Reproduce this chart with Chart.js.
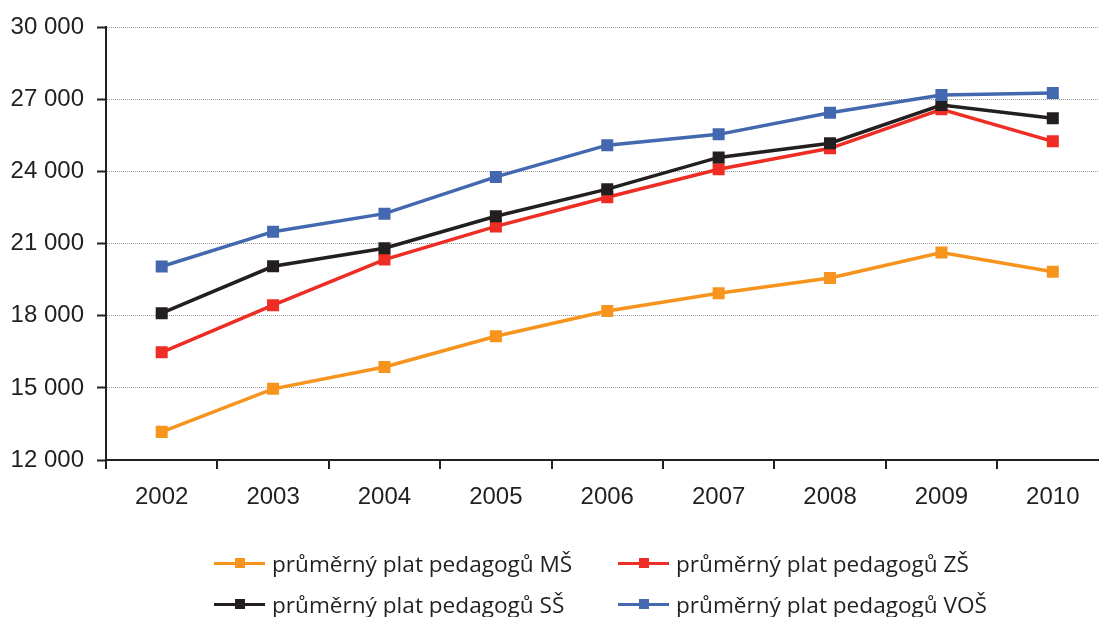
<!DOCTYPE html>
<html>
<head>
<meta charset="utf-8">
<script src="https://cdn.jsdelivr.net/npm/chart.js@4.4.0/dist/chart.umd.min.js"></script>
<style>
  html, body { margin: 0; padding: 0; background: #fff; overflow: hidden; }
  #wrap { position: relative; width: 1099px; height: 617px; overflow: hidden; }
  #mycanvas { position: absolute; left: 0; top: 0; }
  .leg { position: absolute; font-family: "Open Sans", "Noto Sans", sans-serif; font-size: 22.6px; color: #231F20; line-height: 24px; white-space: nowrap; }
  .leg i { position: absolute; left: -58px; top: 10px; width: 51px; height: 3px; }
  .leg b { position: absolute; left: -37px; top: 6px; width: 10px; height: 10px; }
</style>
</head>
<body>
<div id="wrap">
  <canvas id="mycanvas" width="1117" height="617"></canvas>
  <div id="legend"></div>
</div>
<script>
var years = ['2002', '2003', '2004', '2005', '2006', '2007', '2008', '2009', '2010'];

var platMS  = [13170, 14960, 15870, 17150, 18200, 18940, 19570, 20630, 19830];
var platZS  = [16480, 18440, 20340, 21720, 22930, 24100, 24970, 26590, 25260];
var platSS  = [18110, 20060, 20810, 22140, 23270, 24590, 25180, 26770, 26220];
var platVOS = [20050, 21500, 22250, 23780, 25100, 25550, 26450, 27190, 27270];

var labels = ['průměrný plat pedagogů MŠ', 'průměrný plat pedagogů ZŠ',
              'průměrný plat pedagogů SŠ', 'průměrný plat pedagogů VOŠ'];
var colors = ['#F7941D', '#EE2D24', '#231F20', '#4468B0'];

var yMin = 12000, yMax = 30000, yStep = 3000;

var series = [platMS, platZS, platSS, platVOS];
var datasets = [];
for (var i in series) {
    datasets.push({
        label: labels[i],
        data: series[i],
        borderColor: colors[i],
        backgroundColor: colors[i],
        borderWidth: 3.5,
        pointStyle: 'rect',
        pointRadius: 8.5,
        pointHoverRadius: 8.5,
        pointBorderWidth: 0,
        tension: 0,
        order: 3 - i
    });
}

var ctx = document.getElementById('mycanvas');
var lineGraph = new Chart(ctx, {
    type: 'line',
    data: { labels: years, datasets: datasets },
    options: {
        responsive: false,
        animation: false,
        layout: { padding: { top: 26, right: 3, bottom: 96, left: 0 } },
        plugins: { legend: { display: false }, tooltip: { enabled: false } },
        scales: {
            x: {
                offset: true,
                grid: { offset: true, drawOnChartArea: false, drawTicks: true, tickLength: 9, color: '#231F20', lineWidth: 2 },
                border: { color: '#231F20', width: 2 },
                ticks: { color: '#231F20', font: { family: 'Liberation Sans, Arial, sans-serif', size: 24 }, padding: 14 },
                afterFit: function(scale) { scale.height = 61; }
            },
            y: {
                min: yMin,
                max: yMax,
                ticks: {
                    stepSize: yStep,
                    color: '#231F20',
                    font: { family: 'Liberation Sans, Arial, sans-serif', size: 24 },
                    padding: 13,
                    callback: function(v) { return Math.round(v / 1000) + ' 000'; }
                },
                grid: { color: '#9a9a9a', lineWidth: 1, tickLength: 9, tickColor: '#231F20', tickWidth: 2 },
                border: { color: '#231F20', width: 2, dash: [1, 1] },
                afterFit: function(scale) { scale.width = 106; }
            }
        }
    }
});

// legend, 2 x 2
var legPos = [[272, 552], [676, 552], [272, 593], [676, 593]];
var html = '';
for (var k in labels) {
    html += '<div class="leg" style="left:' + legPos[k][0] + 'px;top:' + legPos[k][1] + 'px">' +
            '<i style="background:' + colors[k] + '"></i><b style="background:' + colors[k] + '"></b>' +
            labels[k] + '</div>';
}
document.getElementById('legend').innerHTML = html;
</script>
</body>
</html>
